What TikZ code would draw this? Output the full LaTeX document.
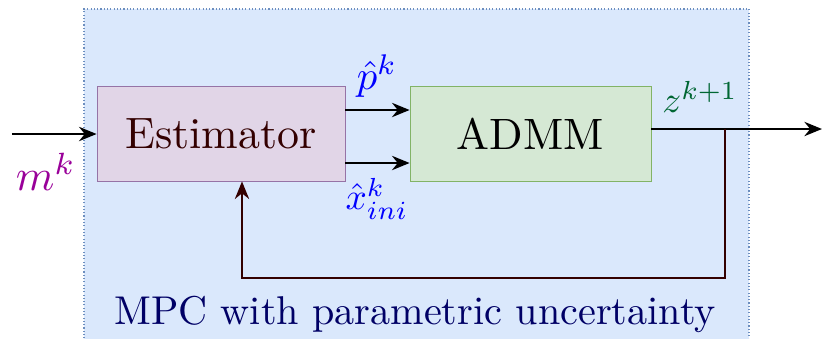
\documentclass[tikz,border=0pt]{standalone}
\usepackage{amsmath}
\usepackage{amssymb}
\usepackage{xcolor}
\usepackage{graphicx}
\usepackage{tikz}
\usetikzlibrary{positioning,arrows.meta}

\definecolor{mpcfill}{HTML}{DAE8FC}
\definecolor{mpcdraw}{HTML}{6C8EBF}
\definecolor{estfill}{HTML}{E1D5E7}
\definecolor{estdraw}{HTML}{9673A6}
\definecolor{admmfill}{HTML}{D5E8D4}
\definecolor{admmdraw}{HTML}{82B366}
\definecolor{fbcolor}{HTML}{330000}
\definecolor{mcolor}{HTML}{990099}
\definecolor{zcolor}{HTML}{006633}
\definecolor{mpctext}{HTML}{000066}

\newcommand{\bigtxt}[2][2]{\scalebox{#1}{#2}}

\begin{document}
\begin{tikzpicture}[x=0.016cm, y=-0.016cm,
  estnode/.style={rectangle, draw=estdraw, fill=estfill, minimum width=3.968cm, minimum height=1.52cm, text=fbcolor},
  admmnode/.style={rectangle, draw=admmdraw, fill=admmfill, minimum width=3.856cm, minimum height=1.52cm},
  sig/.style={line width=1pt, -{Stealth[length=8pt,width=6.5pt]}}]
\useasboundingbox (0,0) rectangle (823,339);

\fill[mpcfill] (84,9) rectangle (749,345);
\draw[mpcdraw, densely dotted, line width=0.5pt] (84,345) -- (84,9) -- (749,9) -- (749,345);

\node[estnode] at (221,133.5) (est) {\bigtxt{Estimator}};
\node[admmnode] at (530.5,133.5) (admm) {\bigtxt{ADMM}};
\coordinate (in) at (12,134);
\coordinate (out) at (822,129);
\coordinate (tap) at (725,129);

\draw[sig] (in) -- (est.west |- in);
\node[text=mcolor] at (46,172) (m) {\bigtxt{$m^k$}};

\draw[sig] (est.east |- 0,110) -- (admm.west |- 0,110);
\draw[sig] (est.east |- 0,163) -- (admm.west |- 0,163);
\node[text=blue] at (377,76) (p) {\bigtxt[1.85]{$\hat{p}^k$}};
\node[text=blue] at (377,199) (xini) {\bigtxt[1.7]{$\hat{x}^k_{ini}$}};

\draw[sig] (admm.east |- out) -- (out);
\node[text=zcolor] at (700,97) (z) {\bigtxt[1.7]{$z^{k+1}$}};

\draw[sig, fbcolor] (tap) -- (725,278) -| (est.south -| 242,0);

\node[text=mpctext] at (415,314) (title) {\bigtxt[1.83]{MPC with parametric uncertainty}};

\end{tikzpicture}
\end{document}
